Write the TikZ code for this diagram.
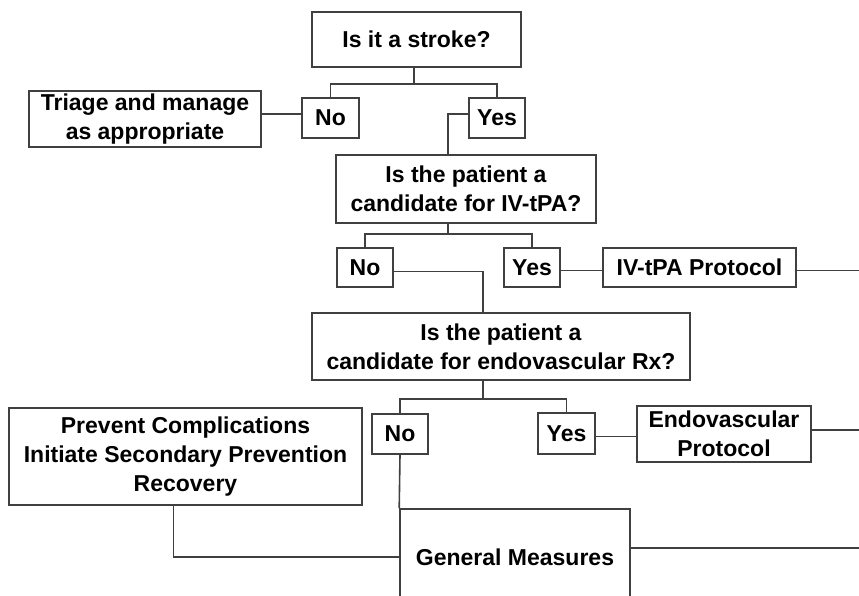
\documentclass[tikz,border=0pt]{standalone}
\usepackage{fontspec}
\setmainfont{Liberation Sans}
\usepackage{tikz}

\begin{document}
\begin{tikzpicture}[x=1pt,y=-1pt,
    box/.style={rectangle,draw=black!75,line width=1.6pt,align=center,inner sep=0pt,
      font=\bfseries\fontsize{23}{29}\selectfont},
    link/.style={draw=black!75,line width=1.6pt}]
    \useasboundingbox (0,0) rectangle (859,596);
    \clip (0,0) rectangle (859,596);
    \coordinate (rim) at (859,0);
    \node(stroke) at (416.5,39.5) [box,minimum width=209pt,minimum height=55pt] {Is it a stroke?};
    \node(triage) at (145,119) [box,minimum width=232pt,minimum height=56pt] {Triage and manage\\as appropriate};
    \node(no1) at (330.5,118) [box,minimum width=57pt,minimum height=40pt] {No};
    \node(yes1) at (497,118) [box,minimum width=56pt,minimum height=40pt] {Yes};
    \node(ivq) at (466,189) [box,minimum width=260pt,minimum height=68pt] {Is the patient a\\candidate for IV-tPA?};
    \node(no2) at (365,267.5) [box,minimum width=56pt,minimum height=39pt] {No};
    \node(yes2) at (532,267.5) [box,minimum width=56pt,minimum height=39pt] {Yes};
    \node(ivp) at (699.5,267.5) [box,minimum width=193pt,minimum height=39pt] {IV-tPA Protocol};
    \node(endoq) at (501,346.5) [box,minimum width=378pt,minimum height=67pt] {Is the patient a\\candidate for endovascular Rx?};
    \node(no3) at (400,434) [box,minimum width=56pt,minimum height=40pt] {No};
    \node(yes3) at (566.5,433.5) [box,minimum width=57pt,minimum height=41pt] {Yes};
    \node(endop) at (724,434) [box,minimum width=174pt,minimum height=56pt] {Endovascular\\Protocol};
    \node(prev) at (185.5,456.5) [box,minimum width=353pt,minimum height=97pt] {Prevent Complications\\Initiate Secondary Prevention\\Recovery};
    \node(gm) at (515,557) [box,minimum width=230pt,minimum height=96pt] {General Measures};
    \draw[link] ([xshift=-2.5pt]stroke.south) -- ++(0,16) -| (no1.north);
    \draw[link] ([xshift=-2.5pt]stroke.south) ++(0,16) -| (yes1.north);
    \draw[link] ([yshift=4pt]no1.west) -- ([yshift=4pt]no1.west -| triage.east);
    \draw[link] ([yshift=4pt]yes1.west) -| ([xshift=-18pt]ivq.north);
    \draw[link] ([xshift=-18pt]ivq.south) -- ++(0,10) -| (no2.north);
    \draw[link] ([xshift=-18pt]ivq.south) ++(0,10) -| (yes2.north);
    \draw[link] ([yshift=-3pt]yes2.east) -- ([yshift=-3pt]yes2.east -| ivp.west);
    \draw[link] ([yshift=-3pt]ivp.east) -- ([yshift=-3pt]ivp.east -| rim);
    \draw[link] ([yshift=-4pt]no2.east) -| ([xshift=-18pt]endoq.north);
    \draw[link] ([xshift=-18pt]endoq.south) -- ++(0,18) -| (no3.north);
    \draw[link] ([xshift=-18pt]endoq.south) ++(0,18) -| (yes3.north);
    \draw[link] ([yshift=-3pt]yes3.east) -- ([yshift=-3pt]yes3.east -| endop.west);
    \draw[link] ([yshift=4pt]endop.east) -- ([yshift=4pt]endop.east -| rim);
    \draw[link] (no3.south) -- (gm.north west);
    \draw[link] ([xshift=-12pt]prev.south) |- (gm.west);
    \draw[link] ([yshift=9pt]gm.east) -- ([yshift=9pt]gm.east -| rim);
  \end{tikzpicture}
\end{document}
